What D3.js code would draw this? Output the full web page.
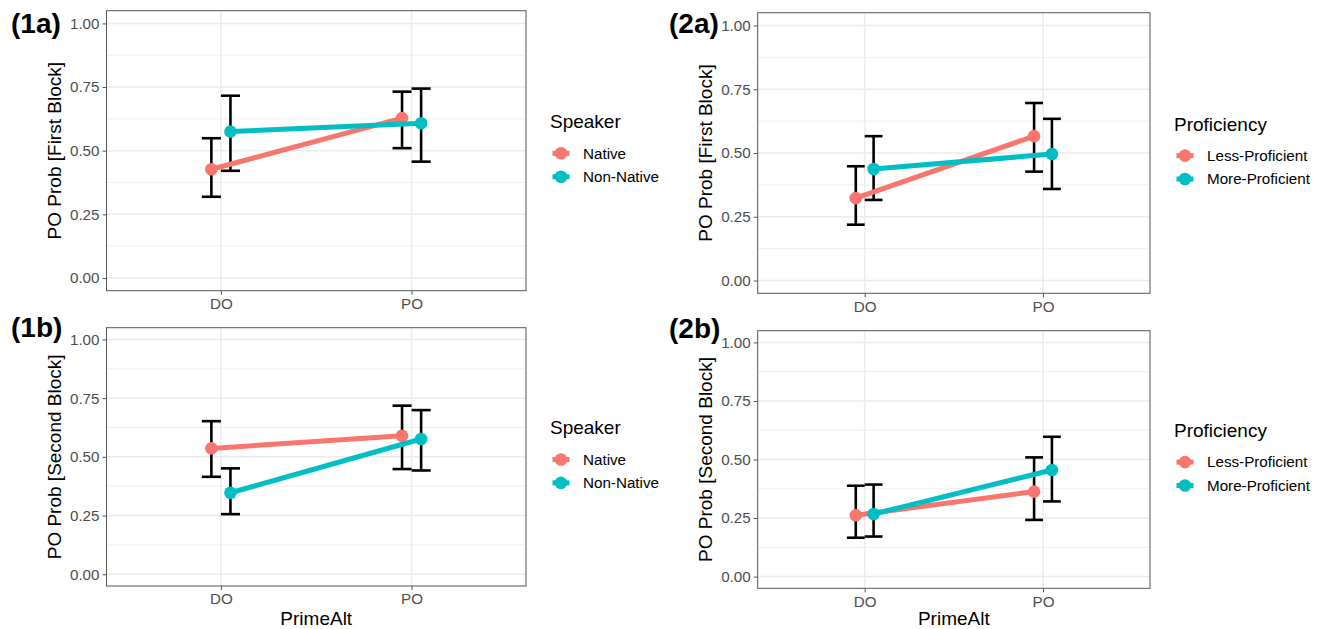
<!DOCTYPE html>
<html>
<head>
<meta charset="utf-8">
<script src="https://cdn.jsdelivr.net/npm/d3@7"></script>
<style>
  body { margin: 0; background: #fff; }
  svg { display: block; }
</style>
</head>
<body>
<svg id="chart" width="1325" height="629"></svg>
<script>
// categories / groups
const primeAlt = ["DO", "PO"];
const speakerGroups = ["Native", "Non-Native"];
const proficiencyGroups = ["Less-Proficient", "More-Proficient"];
const yTicks = [0, 0.25, 0.5, 0.75, 1];
const yMinorTicks = [0.125, 0.375, 0.625, 0.875];

// (1a) speaker, first block : one [DO, PO] row per group
const speakerFirstProb = [[0.427, 0.628], [0.575, 0.608]];
const speakerFirstLow  = [[0.319, 0.510], [0.421, 0.457]];
const speakerFirstHigh = [[0.549, 0.732], [0.716, 0.744]];

// (1b) speaker, second block
const speakerSecondProb = [[0.536, 0.590], [0.347, 0.576]];
const speakerSecondLow  = [[0.415, 0.448], [0.256, 0.442]];
const speakerSecondHigh = [[0.652, 0.718], [0.451, 0.699]];

// (2a) proficiency, first block
const profFirstProb = [[0.323, 0.566], [0.437, 0.496]];
const profFirstLow  = [[0.219, 0.427], [0.316, 0.359]];
const profFirstHigh = [[0.448, 0.696], [0.566, 0.634]];

// (2b) proficiency, second block
const profSecondProb = [[0.262, 0.363], [0.267, 0.455]];
const profSecondLow  = [[0.166, 0.242], [0.171, 0.321]];
const profSecondHigh = [[0.388, 0.509], [0.393, 0.597]];

const colors = ["#F8766D", "#00BFC4"];
const font = "'Liberation Sans', Arial, Helvetica, sans-serif";
const dodge = 0.05;

const panels = [
    { tag: "(1a)", tagX: 11, tagY: 33, left: 106.5, right: 526, top: 10.7, bottom: 290.7,
      yTitle: "PO Prob [First Block]", yTitleX: 61, xTitleY: null,
      legendTitle: "Speaker", groups: speakerGroups,
      prob: speakerFirstProb, low: speakerFirstLow, high: speakerFirstHigh },
    { tag: "(1b)", tagX: 11, tagY: 337, left: 106.5, right: 526, top: 327.7, bottom: 586,
      yTitle: "PO Prob [Second Block]", yTitleX: 61, xTitleY: 625,
      legendTitle: "Speaker", groups: speakerGroups,
      prob: speakerSecondProb, low: speakerSecondLow, high: speakerSecondHigh },
    { tag: "(2a)", tagX: 669, tagY: 33, left: 757.7, right: 1150, top: 12.7, bottom: 293.3,
      yTitle: "PO Prob [First Block]", yTitleX: 712, xTitleY: null,
      legendTitle: "Proficiency", groups: proficiencyGroups,
      prob: profFirstProb, low: profFirstLow, high: profFirstHigh },
    { tag: "(2b)", tagX: 669, tagY: 338, left: 757.7, right: 1150, top: 330.7, bottom: 588.3,
      yTitle: "PO Prob [Second Block]", yTitleX: 712, xTitleY: 624.5,
      legendTitle: "Proficiency", groups: proficiencyGroups,
      prob: profSecondProb, low: profSecondLow, high: profSecondHigh }
];

const svg = d3.select("#chart");

function drawPanel(p) {
    const x = d3.scaleLinear().domain([0.4, 2.6]).range([p.left, p.right]);
    const y = d3.scaleLinear().domain([-0.05, 1.05]).range([p.bottom, p.top]);
    const g = svg.append("g");

    // grid lines
    g.selectAll(".minor").data(yMinorTicks).join("line")
        .attr("x1", p.left).attr("x2", p.right)
        .attr("y1", d => y(d)).attr("y2", d => y(d))
        .attr("stroke", "#EBEBEB").attr("stroke-width", 0.8);
    g.selectAll(".major-y").data(yTicks).join("line")
        .attr("x1", p.left).attr("x2", p.right)
        .attr("y1", d => y(d)).attr("y2", d => y(d))
        .attr("stroke", "#EBEBEB").attr("stroke-width", 1.5);
    g.selectAll(".major-x").data(primeAlt).join("line")
        .attr("x1", (d, i) => x(i + 1)).attr("x2", (d, i) => x(i + 1))
        .attr("y1", p.top).attr("y2", p.bottom)
        .attr("stroke", "#EBEBEB").attr("stroke-width", 1.5);

    const rows = p.groups.flatMap((grp, gi) => primeAlt.map((cat, ci) => ({
        gi: gi,
        xv: ci + 1 + (gi === 0 ? -dodge : dodge),
        prob: p.prob[gi][ci],
        low: p.low[gi][ci],
        high: p.high[gi][ci]
    })));

    // error bars
    const eb = g.append("g").attr("stroke", "#000").attr("stroke-width", 2.6).attr("fill", "none");
    eb.selectAll(".v").data(rows).join("line")
        .attr("x1", d => x(d.xv)).attr("x2", d => x(d.xv))
        .attr("y1", d => y(d.low)).attr("y2", d => y(d.high));
    eb.selectAll(".lo").data(rows).join("line")
        .attr("x1", d => x(d.xv - 0.05)).attr("x2", d => x(d.xv + 0.05))
        .attr("y1", d => y(d.low)).attr("y2", d => y(d.low));
    eb.selectAll(".hi").data(rows).join("line")
        .attr("x1", d => x(d.xv - 0.05)).attr("x2", d => x(d.xv + 0.05))
        .attr("y1", d => y(d.high)).attr("y2", d => y(d.high));

    // points and lines, one group after the other
    const line = d3.line().x(d => x(d.xv)).y(d => y(d.prob));
    p.groups.forEach((grp, gi) => {
        const sub = rows.filter(r => r.gi === gi);
        g.selectAll(".pt" + gi).data(sub).join("circle")
            .attr("cx", d => x(d.xv)).attr("cy", d => y(d.prob))
            .attr("r", 6.3).attr("fill", colors[gi]);
        g.append("path").datum(sub)
            .attr("d", line)
            .attr("fill", "none")
            .attr("stroke", colors[gi])
            .attr("stroke-width", 5);
    });

    // axes
    const yAxis = d3.axisLeft(y).tickValues(yTicks).tickFormat(d3.format(".2f"))
        .tickSize(4).tickPadding(3);
    g.append("g")
        .attr("transform", `translate(${p.left},0)`)
        .call(yAxis)
        .attr("font-family", font).attr("font-size", 15.2)
        .call(a => a.select(".domain").remove())
        .call(a => a.selectAll("line").attr("stroke", "#555").attr("stroke-width", 1))
        .call(a => a.selectAll("text").attr("fill", "#4D4D4D"));

    const xAxis = d3.axisBottom(x).tickValues([1, 2]).tickFormat(d => primeAlt[d - 1])
        .tickSize(4).tickPadding(3.5);
    g.append("g")
        .attr("transform", `translate(0,${p.bottom})`)
        .call(xAxis)
        .attr("font-family", font).attr("font-size", 15.2)
        .call(a => a.select(".domain").remove())
        .call(a => a.selectAll("line").attr("stroke", "#555").attr("stroke-width", 1))
        .call(a => a.selectAll("text").attr("fill", "#4D4D4D"));

    // panel border
    g.append("rect")
        .attr("x", p.left).attr("y", p.top)
        .attr("width", p.right - p.left).attr("height", p.bottom - p.top)
        .attr("fill", "none").attr("stroke", "#555").attr("stroke-width", 1);

    // axis titles
    const cy = (p.top + p.bottom) / 2;
    g.append("text")
        .attr("transform", `translate(${p.yTitleX},${cy}) rotate(-90)`)
        .attr("text-anchor", "middle")
        .attr("font-family", font).attr("font-size", 19)
        .text(p.yTitle);
    if (p.xTitleY) {
        g.append("text")
            .attr("x", (p.left + p.right) / 2).attr("y", p.xTitleY)
            .attr("text-anchor", "middle")
            .attr("font-family", font).attr("font-size", 19)
            .text("PrimeAlt");
    }

    // panel tag
    g.append("text")
        .attr("x", p.tagX).attr("y", p.tagY)
        .attr("font-family", font).attr("font-size", 28).attr("font-weight", "bold")
        .text(p.tag);

    // legend
    const lg = g.append("g").attr("transform", `translate(${p.right + 24},${cy})`);
    lg.append("text")
        .attr("x", 0).attr("y", -22.4)
        .attr("font-family", font).attr("font-size", 19)
        .text(p.legendTitle);
    const keys = lg.selectAll(".key").data(p.groups).join("g")
        .attr("transform", (d, i) => `translate(0,${2.6 + i * 23.4})`);
    keys.append("line")
        .attr("x1", 2.5).attr("x2", 19.5).attr("y1", 0).attr("y2", 0)
        .attr("stroke", (d, i) => colors[i]).attr("stroke-width", 5);
    keys.append("circle")
        .attr("cx", 11).attr("cy", 0).attr("r", 6.3)
        .attr("fill", (d, i) => colors[i]);
    keys.append("text")
        .attr("x", 33).attr("y", 0).attr("dy", "0.35em")
        .attr("font-family", font).attr("font-size", 15.2)
        .text(d => d);
}

panels.forEach(drawPanel);
</script>
</body>
</html>
